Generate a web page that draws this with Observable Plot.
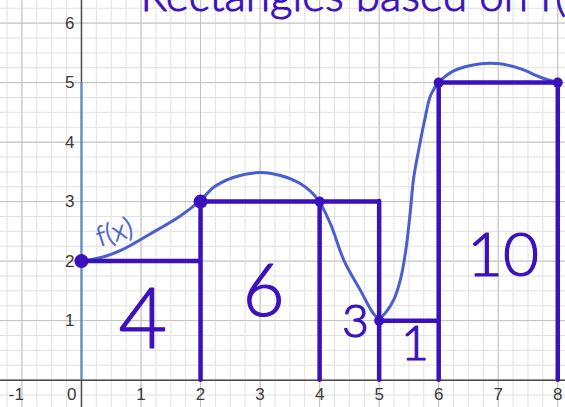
<!DOCTYPE html>
<html>
<head>
<meta charset="utf-8">
<script src="https://cdn.jsdelivr.net/npm/d3@7"></script>
<script src="https://cdn.jsdelivr.net/npm/@observablehq/plot@0.6"></script>
<style>
  html, body { margin: 0; padding: 0; background: white; }
  #chart { width: 565px; height: 407px; overflow: hidden; }
</style>
</head>
<body>
<div id="chart"></div>
<script>
// ---- Data ----
const xMajorTicks = [-1, 0, 1, 2, 3, 4, 5, 6, 7, 8];
const yMajorTicks = [0, 1, 2, 3, 4, 5, 6];
const xMinorTicks = d3.range(-1.25, 8.26, 0.25);
const yMinorTicks = d3.range(-0.25, 6.51, 0.25);

// f(x) hand-drawn curve
const curveX = [0, 0.33, 0.66, 1.16, 1.66, 2.0, 2.22, 2.56, 3.0, 3.34, 3.68, 3.96, 4.18, 4.41, 4.69, 4.91, 5.0, 5.12, 5.25, 5.36, 5.45, 5.52, 5.58, 5.67, 5.76, 5.87, 6.0, 6.26, 6.65, 6.99, 7.38, 7.71, 8.0];
const curveY = [2.0, 2.06, 2.18, 2.46, 2.76, 3.02, 3.24, 3.41, 3.49, 3.44, 3.30, 3.05, 2.63, 2.01, 1.50, 1.11, 1.04, 1.15, 1.36, 1.7, 2.2, 2.8, 3.4, 3.9, 4.35, 4.8, 5.0, 5.20, 5.31, 5.32, 5.23, 5.09, 5.0];

// Rectangles (left endpoint heights)
const rectX1 = [0, 2, 4, 5, 6];
const rectX2 = [2, 4, 5, 6, 8];
const rectH  = [2, 3, 3, 1, 5];

// Marked points on f
const dotX = [0, 2, 4, 5, 6, 8];
const dotY = [2, 3, 3, 1, 5, 5];

// Area labels written in the rectangles
const areaLabels = ["4", "6", "3", "1", "10"];
const areaX = [1.03, 3.06, 4.6, 5.6, 7.08];
const areaY = [1.0, 1.47, 0.97, 0.6, 2.08];

const titleText = "Rectangles based on f(x)";
const titleX = 0.99, titleY = 6.44;
const fLabel = "f(x)";
const fLabelX = 0.555, fLabelY = 2.48;

const axisHighlight = [{x: 0, y1: 0, y2: 5}];

// ---- Derived tables ----
const curve = curveX.map((x, i) => ({x, y: curveY[i]}));
const tops = rectX1.map((x1, i) => ({x1, x2: rectX2[i], y: rectH[i]}));
// vertical sides at each right edge, reaching the taller neighbour
const sides = rectX2.map((x, i) => ({x, y1: 0, y2: Math.max(rectH[i], i + 1 < rectH.length ? rectH[i + 1] : 0)}));
const dots = dotX.map((x, i) => ({x, y: dotY[i]}));
const labels = areaLabels.map((t, i) => ({t, x: areaX[i], y: areaY[i]}));

const purple = "#3b10bd";
const blue = "#4a5ed0";
const hand = "Lato, 'Liberation Sans Narrow', sans-serif";

const chart = Plot.plot({
  width: 565,
  height: 407,
  margin: 0,
  x: {domain: [-1.36, 8.13], axis: null},
  y: {domain: [-0.46, 6.38], axis: null},
  r: {type: "identity"},
  style: {background: "white", fontFamily: "'Liberation Sans', Arial, sans-serif"},
  marks: [
    Plot.ruleX(xMinorTicks, {stroke: "#e2e2e2", strokeWidth: 1}),
    Plot.ruleY(yMinorTicks, {stroke: "#e2e2e2", strokeWidth: 1}),
    Plot.ruleX(xMajorTicks, {stroke: "#c2c2c2", strokeWidth: 1}),
    Plot.ruleY(yMajorTicks, {stroke: "#c2c2c2", strokeWidth: 1}),
    Plot.ruleY([0], {stroke: "#4a4a4a", strokeWidth: 1.5}),
    Plot.ruleX([0], {stroke: "#4a4a4a", strokeWidth: 1.5}),
    Plot.ruleX(axisHighlight, {x: "x", y1: "y1", y2: "y2", stroke: "#5b8fd3", strokeWidth: 2}),
    // tick labels
    Plot.text(xMajorTicks.filter(t => t > 0), {x: d => d, y: 0, dy: 14, text: d => String(d), fontSize: 17, fill: "#3a3a3a"}),
    Plot.text(xMajorTicks.filter(t => t === 0), {x: d => d, y: 0, dy: 14, dx: -5, textAnchor: "end", text: d => String(d), fontSize: 17, fill: "#3a3a3a"}),
    Plot.text(xMajorTicks.filter(t => t < 0), {x: d => d, y: 0, dy: 14, dx: 2, textAnchor: "end", text: d => "-" + String(-d), fontSize: 17, fill: "#3a3a3a"}),
    Plot.text(yMajorTicks.filter(t => t > 0), {x: 0, y: d => d, dx: -7, textAnchor: "end", text: d => String(d), fontSize: 17, fill: "#3a3a3a"}),
    // f(x) curve
    Plot.line(curve, {x: "x", y: "y", curve: "catmull-rom", stroke: blue, strokeWidth: 3, strokeLinecap: "round"}),
    // rectangles
    Plot.ruleY(tops, {x1: "x1", x2: "x2", y: "y", stroke: purple, strokeWidth: 4.5, strokeLinecap: "round"}),
    Plot.ruleX(sides, {x: "x", y1: "y1", y2: "y2", stroke: purple, strokeWidth: 4.5, strokeLinecap: "round"}),
    Plot.dot(dots, {x: "x", y: "y", r: (d, i) => (i < 2 ? 7 : 5), fill: purple, stroke: "none"}),
    // handwritten labels
    Plot.text(labels, {x: "x", y: "y", text: "t", fontSize: (d, i) => [84, 72, 46, 48, 62][i], fill: purple,
      stroke: purple, strokeWidth: 1.2, fontFamily: hand, fontWeight: 300}),
    Plot.text([fLabel], {x: fLabelX, y: fLabelY, text: d => d, fontSize: 28, rotate: -18, fill: blue,
      stroke: blue, strokeWidth: 0.6, fontFamily: hand, fontWeight: 300}),
    Plot.text([titleText], {x: titleX, y: titleY, text: d => d, textAnchor: "start", fontSize: 44, fill: purple,
      stroke: purple, strokeWidth: 1, fontFamily: hand, fontWeight: 300})
  ]
});
document.getElementById("chart").appendChild(chart);
</script>
</body>
</html>
